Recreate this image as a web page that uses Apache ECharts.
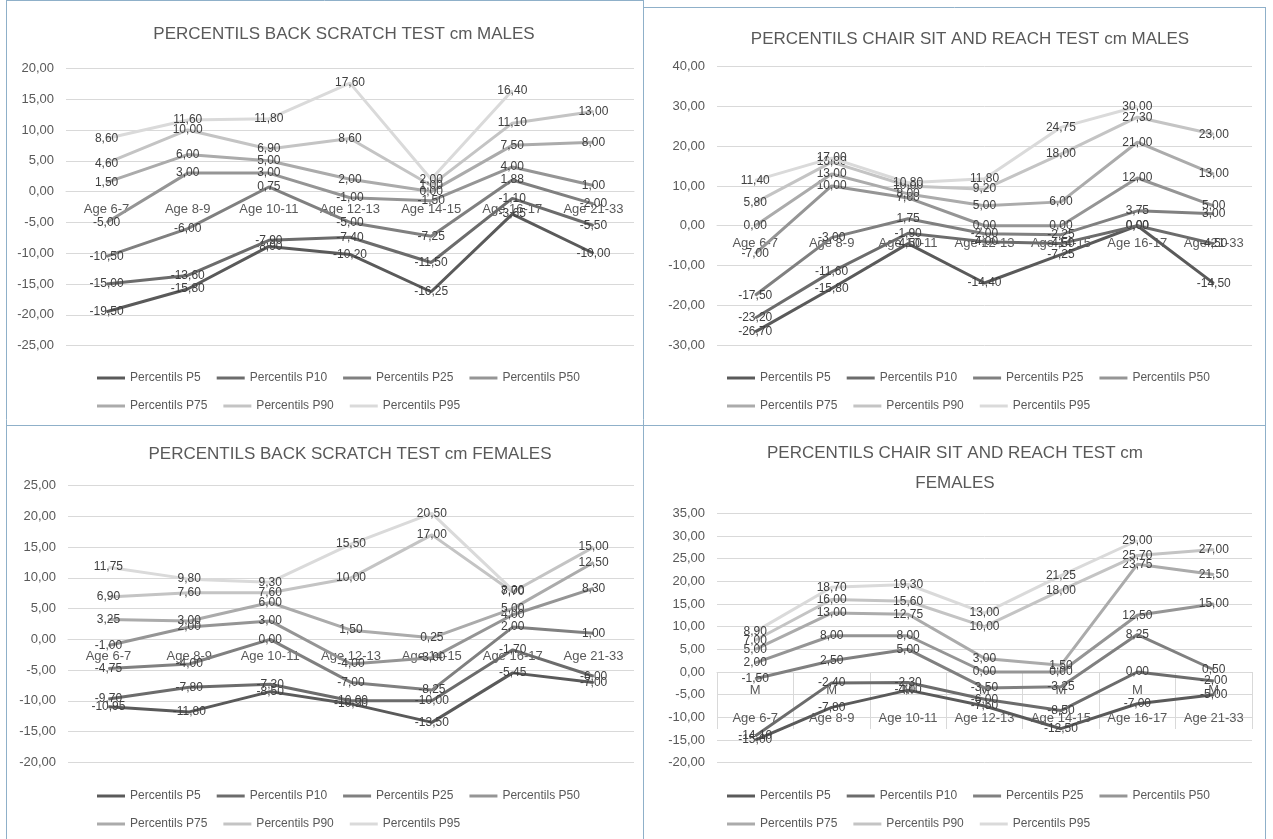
<!DOCTYPE html>
<html>
<head>
<meta charset="utf-8">
<title>Percentils flexibility tests</title>
<script src="https://cdn.jsdelivr.net/npm/echarts@6/dist/echarts.min.js"></script>
<style>
  html, body { margin: 0; padding: 0; background: #ffffff; }
  #chart { width: 1273px; height: 839px; }
</style>
</head>
<body>
<div id="chart"></div>
<script>
// Age groups shared by all four panels
const categories = ['Age 6-7', 'Age 8-9', 'Age 10-11', 'Age 12-13', 'Age 14-15', 'Age 16-17', 'Age 21-33'];
const seriesNames = ['Percentils P5', 'Percentils P10', 'Percentils P25', 'Percentils P50',
                     'Percentils P75', 'Percentils P90', 'Percentils P95'];

// Back scratch test, males (cm)
const backMalesP5  = [-19.50, -15.80, -8.90, -10.20, -16.25, -3.65, -10.00];
const backMalesP10 = [-15.00, -13.60, -7.90, -7.40, -11.50, -1.10, -5.50];
const backMalesP25 = [-10.50, -6.00, 0.75, -5.00, -7.25, 1.88, -2.00];
const backMalesP50 = [-5.00, 3.00, 3.00, -1.00, -1.50, 4.00, 1.00];
const backMalesP75 = [1.50, 6.00, 5.00, 2.00, 0.00, 7.50, 8.00];
const backMalesP90 = [4.60, 10.00, 6.90, 8.60, 1.00, 11.10, 13.00];
const backMalesP95 = [8.60, 11.60, 11.80, 17.60, 2.00, 16.40, null];

// Chair sit and reach test, males (cm)
const chairMalesP5  = [-26.70, -15.80, -4.50, -14.40, -7.25, 0.00, -14.50];
const chairMalesP10 = [-23.20, -11.60, -1.90, -4.00, -4.50, 0.00, -4.50];
const chairMalesP25 = [-17.50, -3.00, 1.75, -2.00, -2.25, 3.75, 3.00];
const chairMalesP50 = [-7.00, 10.00, 7.00, 0.00, 0.00, 12.00, 5.00];
const chairMalesP75 = [0.00, 13.00, 8.00, 5.00, 6.00, 21.00, 13.00];
const chairMalesP90 = [5.80, 16.00, 10.00, 9.20, 18.00, 27.30, 23.00];
const chairMalesP95 = [11.40, 17.00, 10.80, 11.80, 24.75, 30.00, null];

// Back scratch test, females (cm)
const backFemalesP5  = [-10.95, -11.80, -8.50, -10.50, -13.50, -5.45, -7.00];
const backFemalesP10 = [-9.70, -7.80, -7.30, -10.00, -10.00, -1.70, -6.00];
const backFemalesP25 = [-4.75, -4.00, 0.00, -7.00, -8.25, 2.00, 1.00];
const backFemalesP50 = [-1.00, 2.00, 3.00, -4.00, -3.00, 4.00, 8.30];
const backFemalesP75 = [3.25, 3.00, 6.00, 1.50, 0.25, 5.00, 12.50];
const backFemalesP90 = [6.90, 7.60, 7.60, 10.00, 17.00, 7.70, 15.00];
const backFemalesP95 = [11.75, 9.80, 9.30, 15.50, 20.50, 8.00, null];

// Chair sit and reach test, females (cm)
const chairFemalesP5  = [-15.00, -7.80, -4.00, -7.50, -12.50, -7.00, -5.00];
const chairFemalesP10 = [-14.10, -2.40, -2.30, -6.00, -8.50, 0.00, -2.00];
const chairFemalesP25 = [-1.50, 2.50, 5.00, -3.50, -3.25, 8.25, 0.50];
const chairFemalesP50 = [2.00, 8.00, 8.00, 0.00, 0.00, 12.50, 15.00];
const chairFemalesP75 = [5.00, 13.00, 12.75, 3.00, 1.50, 23.75, 21.50];
const chairFemalesP90 = [7.00, 16.00, 15.60, 10.00, 18.00, 25.70, 27.00];
const chairFemalesP95 = [8.90, 18.70, 19.30, 13.00, 21.25, 29.00, null];

// Panel titles and y-axis ranges
const panelTitles = [
  'PERCENTILS BACK SCRATCH TEST cm MALES',
  'PERCENTILS CHAIR SIT AND REACH TEST cm MALES',
  'PERCENTILS BACK SCRATCH TEST cm FEMALES',
  'PERCENTILS CHAIR SIT AND REACH TEST cm\nFEMALES'
];
const yMins = [-25, -30, -20, -20];
const yMaxs = [20, 40, 25, 35];
const yIntervals = [5, 10, 5, 5];

const panelData = [
  [backMalesP5, backMalesP10, backMalesP25, backMalesP50, backMalesP75, backMalesP90, backMalesP95],
  [chairMalesP5, chairMalesP10, chairMalesP25, chairMalesP50, chairMalesP75, chairMalesP90, chairMalesP95],
  [backFemalesP5, backFemalesP10, backFemalesP25, backFemalesP50, backFemalesP75, backFemalesP90, backFemalesP95],
  [chairFemalesP5, chairFemalesP10, chairFemalesP25, chairFemalesP50, chairFemalesP75, chairFemalesP90, chairFemalesP95]
];

// ---- styling / layout ----
const FONT = "'Liberation Sans', Arial, sans-serif";
const lineColors = ['#5a5a5a', '#6c6c6c', '#808080', '#959595', '#ababab', '#c4c4c4', '#dadada'];
const gridColor = '#d9d9d9';
const borderColor = '#8fb0c9';

const grids = [
  { left: 66,  top: 68.3,  width: 568, height: 277.4 },
  { left: 717, top: 66.7,  width: 535, height: 278.3 },
  { left: 68,  top: 485.7, width: 566, height: 276.6 },
  { left: 717, top: 513.3, width: 535, height: 249.4 }
];
const titlePos = [
  { x: 339, y: 19 },
  { x: 965, y: 24 },
  { x: 345, y: 439 },
  { x: 950, y: 433 }
];
const legendPos = [
  { x: 92, y: 367 },
  { x: 722, y: 367 },
  { x: 92, y: 785 },
  { x: 722, y: 785 }
];

// the category axis sits on the zero line: shift it up from the grid bottom
const zeroLift = grids.map((g, i) => -g.height * (0 - yMins[i]) / (yMaxs[i] - yMins[i]));

const fmt = v => (v == null ? '' : Number(v).toFixed(2).replace('.', ','));

const option = {
  backgroundColor: '#ffffff',
  animation: false,
  textStyle: { fontFamily: FONT },
  title: panelTitles.map((t, i) => ({
    text: t,
    left: titlePos[i].x,
    top: titlePos[i].y,
    textAlign: 'center',
    textStyle: { fontFamily: FONT, fontSize: 17, fontWeight: 'normal', color: '#595959',
                 lineHeight: i === 3 ? 30 : 20 }
  })),
  legend: legendPos.map(p => ({
    left: p.x,
    top: p.y,
    width: 495,
    orient: 'horizontal',
    icon: 'rect',
    itemWidth: 28,
    itemHeight: 3,
    itemGap: 16,
    selectedMode: false,
    data: seriesNames,
    textStyle: { fontFamily: FONT, fontSize: 12, color: '#595959', lineHeight: 10.5 }
  })),
  grid: grids.map(g => Object.assign({ containLabel: false }, g)),
  xAxis: grids.map((g, i) => ({
    type: 'category',
    gridIndex: i,
    data: categories,
    boundaryGap: true,
    position: 'bottom',
    offset: zeroLift[i],
    axisLine: { show: true, onZero: false, lineStyle: { color: gridColor, width: 1 } },
    axisTick: i === 3
      ? { show: true, length: 57, interval: 0, lineStyle: { color: gridColor } }
      : { show: false },
    axisLabel: i === 3
      ? { interval: 0, margin: 4, fontFamily: FONT, fontSize: 13, color: '#595959', lineHeight: 28,
          formatter: v => 'M\n' + v }
      : { interval: 0, margin: 11, fontFamily: FONT, fontSize: 13, color: '#595959' },
    splitLine: { show: false },
    z: 1
  })),
  yAxis: grids.map((g, i) => ({
    type: 'value',
    gridIndex: i,
    min: yMins[i],
    max: yMaxs[i],
    interval: yIntervals[i],
    axisLine: { show: false },
    axisTick: { show: false },
    axisLabel: { fontFamily: FONT, fontSize: 13, color: '#595959', margin: 12, formatter: fmt },
    splitLine: { show: true, lineStyle: { color: gridColor, width: 1 } }
  })),
  series: [],
  graphic: [
    // panel frames
    { type: 'line', shape: { x1: 6.5, y1: 0, x2: 6.5, y2: 839 }, style: { stroke: borderColor, lineWidth: 1 } },
    { type: 'line', shape: { x1: 643.5, y1: 0, x2: 643.5, y2: 839 }, style: { stroke: borderColor, lineWidth: 1 } },
    { type: 'line', shape: { x1: 1265.5, y1: 7, x2: 1265.5, y2: 839 }, style: { stroke: borderColor, lineWidth: 1 } },
    { type: 'line', shape: { x1: 6, y1: 425.5, x2: 1266, y2: 425.5 }, style: { stroke: borderColor, lineWidth: 1 } },
    { type: 'line', shape: { x1: 643, y1: 7.5, x2: 1266, y2: 7.5 }, style: { stroke: borderColor, lineWidth: 1 } },
    { type: 'line', shape: { x1: 6, y1: 0.5, x2: 643, y2: 0.5 }, style: { stroke: borderColor, lineWidth: 1 } }
  ]
};

panelData.forEach((rows, p) => {
  rows.forEach((vals, k) => {
    option.series.push({
      name: seriesNames[k],
      type: 'line',
      xAxisIndex: p,
      yAxisIndex: p,
      data: vals,
      connectNulls: false,
      symbol: 'circle',
      symbolSize: 1,
      showSymbol: true,
      lineStyle: { color: lineColors[k], width: 3 },
      itemStyle: { color: lineColors[k] },
      label: {
        show: true,
        position: 'inside',
        formatter: d => fmt(d.value),
        fontFamily: FONT,
        fontSize: 12,
        color: '#404040'
      },
      labelLayout: { hideOverlap: false },
      emphasis: { disabled: true },
      z: 2 + k
    });
  });
});

const chart = echarts.init(document.getElementById('chart'), null, { renderer: 'canvas' });
chart.setOption(option);
</script>
</body>
</html>
